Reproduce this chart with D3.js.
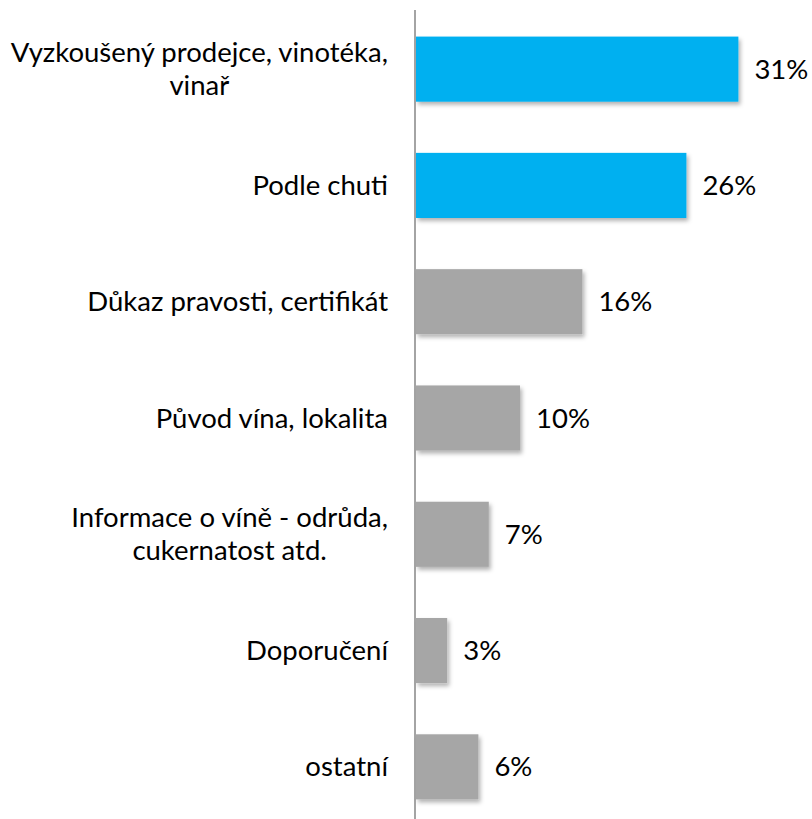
<!DOCTYPE html>
<html>
<head>
<meta charset="utf-8">
<script src="https://cdn.jsdelivr.net/npm/d3@7"></script>
<style>
  body { margin: 0; background: #fff; }
  text { font-family: Lato, Carlito, "Open Sans", sans-serif; fill: #000; }
</style>
</head>
<body>
<svg id="chart" width="812" height="819"></svg>
<script>
// categories, top to bottom
var categories = [
  ["Vyzkoušený prodejce, vinotéka,", "vinař"],
  ["Podle chuti"],
  ["Důkaz pravosti, certifikát"],
  ["Původ vína, lokalita"],
  ["Informace o víně - odrůda,", "cukernatost atd."],
  ["Doporučení"],
  ["ostatní"]
];
var values = [31, 26, 16, 10, 7, 3, 6];
var highlighted = [true, true, false, false, false, false, false];

var svg = d3.select("#chart");
var axisX = 415;
var fontSize = 27.5;

var defs = svg.append("defs");
var shadow = defs.append("filter").attr("id", "shadow")
    .attr("x", "-10%").attr("y", "-10%").attr("width", "130%").attr("height", "140%");
shadow.append("feDropShadow")
    .attr("dx", 2).attr("dy", 3).attr("stdDeviation", 2)
    .attr("flood-color", "#000").attr("flood-opacity", 0.3);

var y = d3.scaleBand()
    .domain(d3.range(categories.length))
    .range([11, 825])
    .paddingInner(0.44)
    .paddingOuter(0.22);

var x = d3.scaleLinear()
    .domain([0, 31])
    .range([axisX + 1, axisX + 1 + 31 * 10.4]);

svg.selectAll(".bar")
    .data(values)
  .enter().append("rect")
    .attr("class", "bar")
    .attr("x", x(0))
    .attr("y", function (d, i) { return y(i); })
    .attr("width", function (d) { return x(d) - x(0); })
    .attr("height", y.bandwidth())
    .attr("fill", function (d, i) { return highlighted[i] ? "#00B0F0" : "#A6A6A6"; })
    .attr("filter", "url(#shadow)");

// value labels
svg.selectAll(".val")
    .data(values)
  .enter().append("text")
    .attr("class", "val")
    .attr("x", function (d) { return x(d) + 16; })
    .attr("y", function (d, i) { return y(i) + y.bandwidth() / 2; })
    .attr("dy", "0.35em")
    .attr("font-size", fontSize)
    .text(function (d) { return d + "%"; });

// category labels, wrapped ones centred on their widest line
var labelRight = 388;
var lineH = 33;
categories.forEach(function (lines, i) {
    var cy = y(i) + y.bandwidth() / 2;
    var t = svg.append("text")
        .attr("font-size", fontSize)
        .attr("class", "cat");
    var top = cy - (lines.length - 1) * lineH / 2;
    lines.forEach(function (l, j) {
        t.append("tspan")
            .attr("y", top + j * lineH)
            .attr("dy", "0.35em")
            .text(l);
    });
    if (lines.length === 1) {
        t.attr("text-anchor", "end").selectAll("tspan").attr("x", labelRight);
    } else {
        var w = 0;
        t.selectAll("tspan").each(function () { w = Math.max(w, this.getComputedTextLength()); });
        t.attr("text-anchor", "middle").selectAll("tspan").attr("x", labelRight - w / 2);
    }
});

// vertical axis line
svg.append("line")
    .attr("x1", axisX).attr("x2", axisX)
    .attr("y1", 10).attr("y2", 819)
    .attr("stroke", "#868686")
    .attr("stroke-width", 1.5);
</script>
</body>
</html>
